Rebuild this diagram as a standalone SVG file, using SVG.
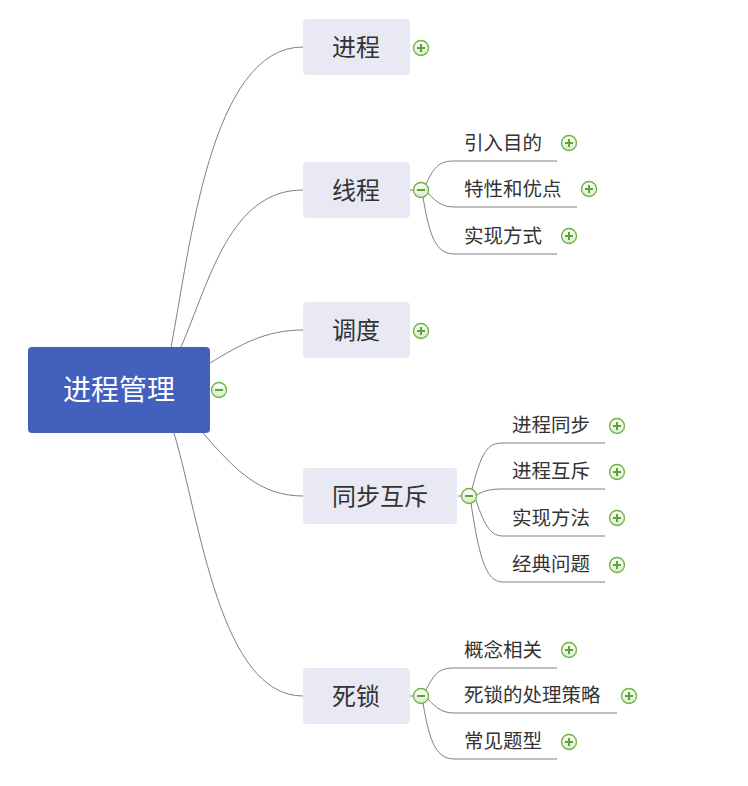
<svg xmlns="http://www.w3.org/2000/svg" width="748" height="786" viewBox="0 0 748 786">
<defs>
<linearGradient id="ig" x1="0" y1="0" x2="0" y2="1">
<stop offset="0" stop-color="#ffffff"/>
<stop offset="1" stop-color="#d9ecd0"/>
</linearGradient>
<g id="plus"><circle r="7.5" fill="url(#ig)" stroke="#6cb23f" stroke-width="1.3"/><path d="M-4,0H4M0,-4V4" stroke="#5aa62e" stroke-width="2"/></g>
<g id="minus"><circle r="7.5" fill="url(#ig)" stroke="#6cb23f" stroke-width="1.3"/><path d="M-4,0H4" stroke="#5aa62e" stroke-width="2"/></g>
</defs>
<style>
text{font-family:"Noto Sans CJK SC","Noto Sans CJK JP",sans-serif;fill:#333}
.l1 rect{fill:#e9e9f3}
.l1 text{font-size:24px;text-anchor:middle}
.l2 text{font-size:19.5px}
.ul{stroke:#aaaaaa;stroke-width:1.5;fill:none}
.c path{stroke:#808080;stroke-width:1;fill:none}
</style>
<rect width="748" height="786" fill="#ffffff"/>
<g class="c" id="connectors">
<path d="M171,347 C190,250 210,47 303,47"/>
<path d="M181,347 C210,280 230,190 303,190"/>
<path d="M210,363 C240,345 265,330 303,330"/>
<path d="M203,433 C235,470 260,496 303,496"/>
<path d="M174,433 C200,520 220,696 303,696"/>
<path d="M410,190 H414"/>
<path d="M458,496 H462"/>
<path d="M410,696 H414"/>
<path d="M426,184 C435,165 440,161 455,161"/>
<path d="M428,193 C437,203 443,207 455,207"/>
<path d="M423,197 C430,240 437,254 455,254"/>
<path d="M472,489 C482,450 488,443 503,443"/>
<path d="M477,495 C485,490 492,489 503,489"/>
<path d="M476,500 C485,528 492,536 503,536"/>
<path d="M471,503 C480,565 488,582 503,582"/>
<path d="M426,690 C435,672 440,668 455,668"/>
<path d="M428,699 C437,709 443,713 455,713"/>
<path d="M423,703 C430,745 437,759 455,759"/>
</g>
<g id="root">
<rect x="28" y="347" width="182" height="86" rx="4" fill="#4360bd"/>
<text x="119" y="400" font-size="28" text-anchor="middle" style="fill:#ffffff">进程管理</text>
<use href="#minus" x="219" y="390"/>
</g>
<g id="n1" class="l1"><rect x="303" y="19" width="107" height="56" rx="4"/><text x="356" y="56">进程</text><use href="#plus" x="421" y="48"/></g>
<g id="n2" class="l1"><rect x="303" y="162" width="107" height="56" rx="4"/><text x="356" y="199">线程</text><use href="#minus" x="421" y="190"/></g>
<g id="n3" class="l1"><rect x="303" y="302" width="107" height="56" rx="4"/><text x="356" y="339">调度</text><use href="#plus" x="421" y="331"/></g>
<g id="n4" class="l1"><rect x="303" y="468" width="154" height="56" rx="4"/><text x="380" y="505">同步互斥</text><use href="#minus" x="469" y="496"/></g>
<g id="n5" class="l1"><rect x="303" y="668" width="107" height="56" rx="4"/><text x="356" y="705">死锁</text><use href="#minus" x="421" y="696"/></g>
<g id="n2a" class="l2"><path class="ul" d="M455,161H557"/><text x="464" y="150">引入目的</text><use href="#plus" x="569" y="143"/></g>
<g id="n2b" class="l2"><path class="ul" d="M455,207H577"/><text x="464" y="196">特性和优点</text><use href="#plus" x="589" y="189"/></g>
<g id="n2c" class="l2"><path class="ul" d="M455,254H557"/><text x="464" y="243">实现方式</text><use href="#plus" x="569" y="236"/></g>
<g id="n4a" class="l2"><path class="ul" d="M503,443H605"/><text x="512" y="432">进程同步</text><use href="#plus" x="617" y="426"/></g>
<g id="n4b" class="l2"><path class="ul" d="M503,489H605"/><text x="512" y="478">进程互斥</text><use href="#plus" x="617" y="472"/></g>
<g id="n4c" class="l2"><path class="ul" d="M503,536H605"/><text x="512" y="525">实现方法</text><use href="#plus" x="617" y="518"/></g>
<g id="n4d" class="l2"><path class="ul" d="M503,582H605"/><text x="512" y="571">经典问题</text><use href="#plus" x="617" y="565"/></g>
<g id="n5a" class="l2"><path class="ul" d="M455,668H557"/><text x="464" y="657">概念相关</text><use href="#plus" x="569" y="650"/></g>
<g id="n5b" class="l2"><path class="ul" d="M455,713H617"/><text x="464" y="702">死锁的处理策略</text><use href="#plus" x="629" y="696"/></g>
<g id="n5c" class="l2"><path class="ul" d="M455,759H557"/><text x="464" y="748">常见题型</text><use href="#plus" x="569" y="742"/></g>
</svg>
